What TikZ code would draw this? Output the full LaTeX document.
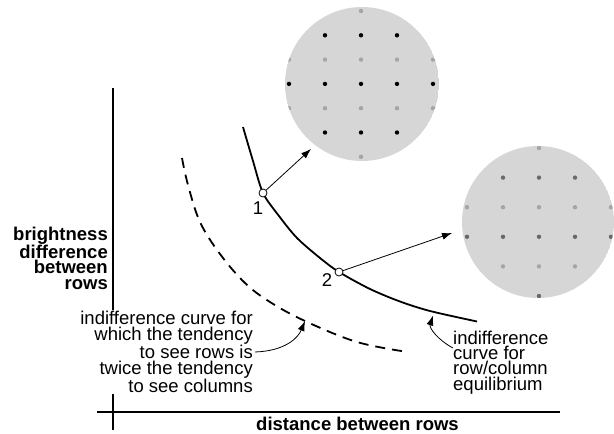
\documentclass[tikz,border=0pt]{standalone}
\usepackage{fontspec}
\setmainfont{Liberation Sans}
\usetikzlibrary{arrows.meta}
\definecolor{discgray}{RGB}{214,214,214}
\definecolor{dotdark}{RGB}{105,105,105}
\definecolor{dotlight}{RGB}{165,165,165}

\begin{document}
\begin{tikzpicture}[
    x=1pt, y=-1pt,
    txt/.style={font=\fontsize{18.5}{15.4}\selectfont, inner sep=0pt},
    axislabel/.style={font=\fontsize{18.5}{15.4}\selectfont\bfseries, inner sep=0pt},
    axis/.style={line width=1.1pt},
    curve/.style={line width=1.8pt},
    pt/.style={circle, draw, fill=white, line width=0.8pt, minimum size=8pt, inner sep=0pt},
    pointer/.style={-{Latex[length=10pt,width=7pt]}, line width=0.8pt},
    dot/.style={radius=2.2pt}
]
\useasboundingbox (0,0) rectangle (614,434);

% axes
\draw[axis] (113,88) -- (113,430);
\draw[axis] (97,412) -- (560,412);

% sample 1: strong brightness difference, rows close together
\begin{scope}
\clip (362,84) circle[radius=77pt];
\fill[discgray] (362,84) circle[radius=77pt];
\foreach \yy in {35.3,83.9,132.5}
  \foreach \xx in {253,289,...,469}
    \fill[black] (\xx,\yy) circle[dot];
\foreach \yy in {11,59.6,108.2,156.8}
  \foreach \xx in {253,289,...,469}
    \fill[dotlight] (\xx,\yy) circle[dot];
\end{scope}

% sample 2: weak brightness difference, rows further apart
\begin{scope}
\clip (538,222) circle[radius=76pt];
\fill[discgray] (538,222) circle[radius=76pt];
\foreach \yy in {177.6,236.8,296}
  \foreach \xx in {431,467,...,647}
    \fill[dotdark] (\xx,\yy) circle[dot];
\foreach \yy in {148,207.2,266.4}
  \foreach \xx in {431,467,...,647}
    \fill[dotlight] (\xx,\yy) circle[dot];
\end{scope}

% indifference curves
\draw[curve] plot[smooth, tension=0.5] coordinates
  {(243,127) (253,161) (263,193) (279,216) (297,238) (320,258) (339,272)
   (370,289) (400,301.5) (430,311) (477,321.5)};
\draw[curve, dash pattern=on 10pt off 7pt] plot[smooth, tension=0.6] coordinates
  {(182,158) (188,185) (200,222) (220,254) (245,283) (270,302) (305,321) (357,342) (408,352)};

\node[pt] (p1) at (263,193) {};
\node[pt] (p2) at (339,272) {};
\node[txt] (n1) at (258,208) {1};
\node[txt] (n2) at (327,280) {2};

\coordinate (tip1) at (311,149);
\coordinate (tip2) at (452,233);
\draw[pointer] (p1) -- (tip1);
\draw[pointer] (p2) -- (tip2);

% labels
\node[axislabel, align=right, anchor=east] (ylab) at (108,258)
  {brightness\\difference\\between\\rows};
\node[axislabel, anchor=base] (xlab) at (357.5,430) {distance between rows};

\node[txt, align=right, anchor=east, fill=white, inner sep=2pt] (ltext) at (255,352)
  {indifference curve for\\which the tendency\\to see rows is\\twice the tendency\\to see columns};
\node[txt, align=left, anchor=west] (rtext) at (453,362.5)
  {indifference\\curve for\\row/column\\equilibrium};

\coordinate (dashmark) at (305,321);
\coordinate (solidmark) at (433,315.5);
\draw[pointer] (ltext.east) .. controls (285,351) and (298,338) .. (dashmark);
\draw[pointer] ([yshift=14.5pt]rtext.west) .. controls (438,340) and (429,328) .. (solidmark);
\end{tikzpicture}
\end{document}
